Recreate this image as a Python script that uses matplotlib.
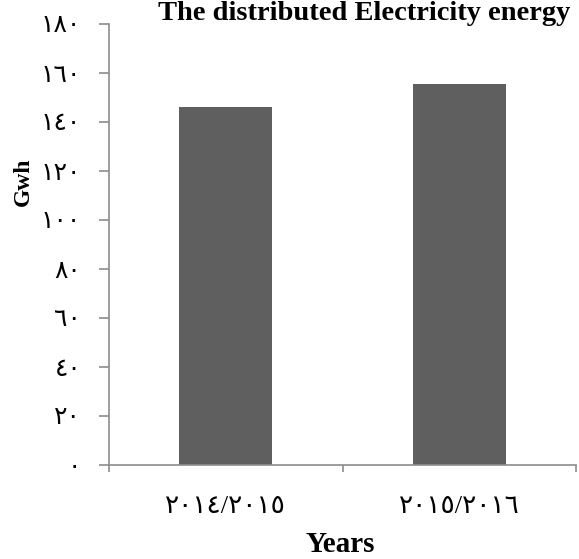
import matplotlib
matplotlib.use("Agg")
import matplotlib.pyplot as plt
from matplotlib.ticker import FixedLocator

categories = ["٢٠١٤/٢٠١٥", "٢٠١٥/٢٠١٦"]
values = [146.3, 155.7]
yticks = [0, 20, 40, 60, 80, 100, 120, 140, 160, 180]
ytick_labels = ["٠", "٢٠", "٤٠", "٦٠", "٨٠", "١٠٠", "١٢٠", "١٤٠", "١٦٠", "١٨٠"]

fam = ["Liberation Serif", "DejaVu Serif", "DejaVu Sans"]
plt.rcParams["font.family"] = fam

fig = plt.figure(figsize=(5.79, 5.59), dpi=100)
ax = fig.add_axes([109/579, 1-465/559, (576-109)/579, (465-24)/559])

x = list(range(len(categories)))
ax.bar(x, values, width=0.4, color="#5f5f5f", zorder=2)
ax.set_xlim(-0.5, len(categories) - 0.5)
ax.set_ylim(0, 180)

ax.set_yticks(yticks)
ax.set_yticklabels(ytick_labels, fontsize=18)

ax.xaxis.set_major_locator(FixedLocator([-0.5, 0.5, 1.5]))
ax.set_xticklabels([])
ax.set_xticks(x, minor=True)
ax.set_xticklabels(categories, minor=True, fontsize=19)
ax.tick_params(axis="x", which="minor", length=0, pad=22)
ax.tick_params(axis="x", which="major", length=5, color="#8c8c8c", width=1.2)
ax.tick_params(axis="y", length=7, color="#8c8c8c", width=1.2, pad=13)

for s in ["top", "right"]:
    ax.spines[s].set_visible(False)
for s in ["left", "bottom"]:
    ax.spines[s].set_color("#8c8c8c")
    ax.spines[s].set_linewidth(1.2)

fig.text(158/579, 1-20.5/559, "The distributed Electricity energy", fontsize=20.5,
         fontweight="bold", ha="left", va="baseline")
fig.text(23/579, 1-182/559, "Gwh", fontsize=17, fontweight="bold", rotation=90,
         ha="center", va="center")
fig.text(340/579, 1-544/559, "Years", fontsize=21, fontweight="bold",
         ha="center", va="center")

fig.savefig("out.png", dpi=100)
